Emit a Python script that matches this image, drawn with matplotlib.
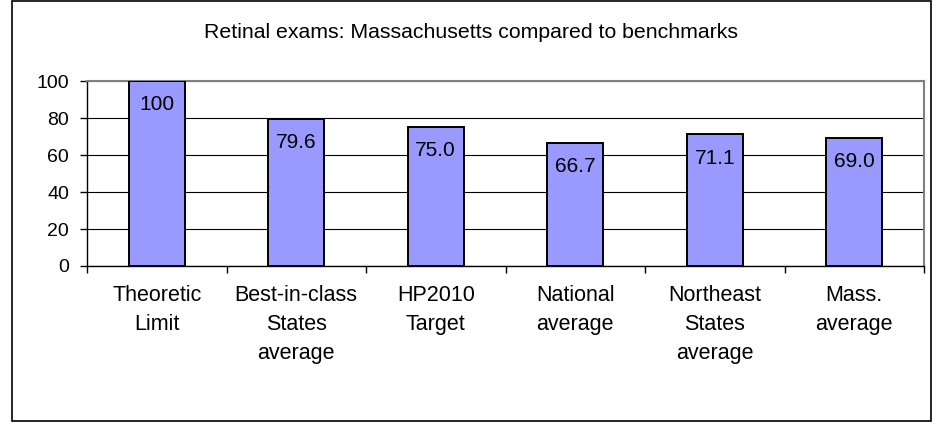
import matplotlib
matplotlib.use("Agg")
import matplotlib.pyplot as plt
from matplotlib.patches import Rectangle

plt.rcParams['font.family'] = ['Liberation Sans', 'DejaVu Sans']

categories = ["Theoretic\nLimit", "Best-in-class\nStates\naverage", "HP2010\nTarget",
              "National\naverage", "Northeast\nStates\naverage", "Mass.\naverage"]
values = [100, 79.6, 75.0, 66.7, 71.1, 69.0]
value_labels = ["100", "79.6", "75.0", "66.7", "71.1", "69.0"]
yticks = [0, 20, 40, 60, 80, 100]
title = "Retinal exams: Massachusetts compared to benchmarks"

W, H = 936, 424
fig = plt.figure(figsize=(W / 100, H / 100), dpi=100)
fig.patch.set_facecolor('white')

# outer border
fig.patches.append(Rectangle((12 / W, 3 / H), (931 - 12) / W, (423 - 3) / H,
                             transform=fig.transFigure, fill=False,
                             edgecolor='black', linewidth=1.2, zorder=0))

ax = fig.add_axes([87 / W, 1 - 266 / H, (924 - 87) / W, (266 - 81) / H])
x = list(range(len(values)))
ax.bar(x, values, width=0.4, color='#9999FF', edgecolor='black', linewidth=1.4, zorder=3)

for xi, v, lab in zip(x, values, value_labels):
    ax.annotate(lab, (xi, v), xytext=(0, -17), textcoords='offset points',
                ha='center', va='center', fontsize=15, zorder=4)

ax.set_xlim(-0.5, len(values) - 0.5)
ax.set_ylim(0, 100)
ax.set_yticks(yticks)
ax.set_yticklabels([str(t) for t in yticks], fontsize=14)
ax.yaxis.grid(True, color='black', linewidth=0.8, zorder=0)
ax.set_axisbelow(True)

ax.set_xticks([i + 0.5 for i in range(-1, len(values))], minor=False)
ax.set_xticklabels([])
ax.set_xticks(x, minor=True)
ax.set_xticklabels(categories, minor=True, fontsize=15.5, linespacing=1.5)
ax.tick_params(axis='x', which='major', direction='out', length=5, width=1, color='black')
ax.tick_params(axis='x', which='minor', length=0, pad=14)
ax.tick_params(axis='y', direction='out', length=5, width=1, pad=8)

for s in ['top', 'right']:
    ax.spines[s].set_color('#808080')
    ax.spines[s].set_linewidth(1.5)
for s in ['left', 'bottom']:
    ax.spines[s].set_color('black')
    ax.spines[s].set_linewidth(1.0)

fig.text(471.5 / W, 1 - 32 / H, title, ha='center', va='center', fontsize=15.3)

fig.savefig("out.png", dpi=100)
